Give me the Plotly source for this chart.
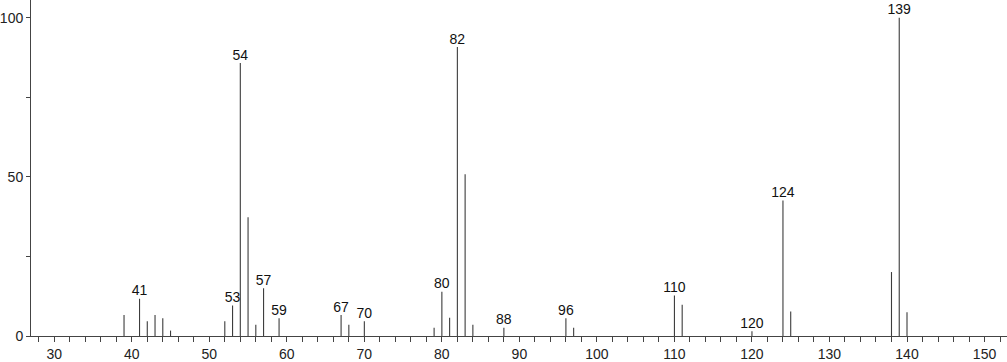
import plotly.graph_objects as go

mz = [39, 41, 42, 43, 44, 45, 52, 53, 54, 55, 56, 57, 59, 67, 68, 70, 79, 80, 81, 82, 83, 84, 88,
      96, 97, 110, 111, 120, 124, 125, 138, 139, 140]
intensity = [6.6, 11.7, 4.6, 6.6, 5.6, 1.7, 4.6, 9.6, 85.8, 37.3, 3.5, 15.0, 5.6, 6.6, 3.5, 4.6, 2.6,
             13.9, 5.7, 90.8, 50.8, 3.5, 2.6, 5.6, 2.6, 12.7, 9.8, 1.5, 42.6, 7.7, 20.1, 100.0, 7.5]
labeled = [41, 53, 54, 57, 59, 67, 70, 80, 82, 88, 96, 110, 120, 124, 139]

xs, ys = [], []
for m, h in zip(mz, intensity):
    xs += [m, m, None]
    ys += [0, h, None]

lab_x = [m for m in mz if m in labeled]
lab_y = [h for m, h in zip(mz, intensity) if m in labeled]

fig = go.Figure()
fig.add_trace(go.Scatter(x=xs, y=ys, mode="lines",
                         line=dict(color="#3c3c3c", width=1.1),
                         hoverinfo="skip", showlegend=False))
fig.add_trace(go.Scatter(x=lab_x, y=lab_y, mode="text",
                         text=[str(m) for m in lab_x], textposition="top center",
                         textfont=dict(family="Liberation Sans, Arial", size=14, color="#111"),
                         showlegend=False))

fig.update_layout(
    width=1007, height=362,
    margin=dict(l=30, r=0, t=0, b=24),
    plot_bgcolor="white", paper_bgcolor="white",
    font=dict(family="Liberation Sans, Arial", size=14, color="#222"),
    xaxis=dict(range=[27.0, 152.9], tickmode="linear", tick0=30, dtick=10,
               showgrid=False, zeroline=False, showline=True, linecolor="#444", linewidth=1,
               ticks="outside", ticklen=5, tickcolor="#444",
               minor=dict(dtick=2, tick0=30, ticks="outside", ticklen=5, tickcolor="#444", showgrid=False),
               tickfont=dict(size=14, color="#222")),
    yaxis=dict(range=[0, 105.6], tickmode="linear", tick0=0, dtick=50,
               showgrid=False, zeroline=False, showline=True, linecolor="#444", linewidth=1,
               ticks="outside", ticklen=4, tickcolor="#444",
               minor=dict(dtick=25, ticks="outside", ticklen=4, tickcolor="#444", showgrid=False),
               tickfont=dict(size=14, color="#222")),
)

fig.write_html("out.html")
